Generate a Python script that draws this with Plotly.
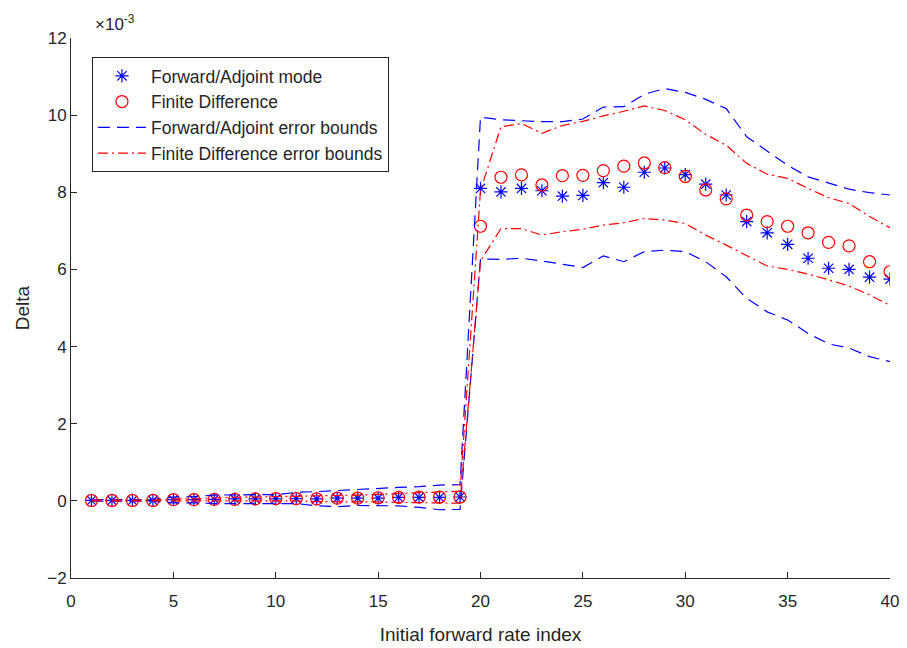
import plotly.graph_objects as go

idx = list(range(1, 41))

# Values in units of 1e-3
fa_mode = [0.01, 0.01, 0.01, 0.01, 0.03, 0.03, 0.04, 0.05, 0.05, 0.05,
           0.06, 0.05, 0.07, 0.07, 0.07, 0.09, 0.09, 0.09, 0.10,
           8.10, 8.01, 8.10, 8.04, 7.90, 7.92, 8.25, 8.13, 8.52, 8.63,
           8.46, 8.21, 7.93, 7.24, 6.95, 6.65, 6.29, 6.03, 6.00, 5.80, 5.75]
fin_diff = [0.01, 0.01, 0.01, 0.01, 0.03, 0.03, 0.04, 0.04, 0.05, 0.06,
            0.06, 0.05, 0.07, 0.07, 0.08, 0.09, 0.10, 0.10, 0.10,
            7.12, 8.39, 8.45, 8.19, 8.43, 8.44, 8.56, 8.68, 8.76, 8.64,
            8.41, 8.06, 7.83, 7.41, 7.24, 7.12, 6.95, 6.70, 6.61, 6.20, 5.94]
fa_upper = [0.03, 0.03, 0.03, 0.03, 0.10, 0.11, 0.15, 0.16, 0.16, 0.16,
            0.22, 0.24, 0.27, 0.30, 0.33, 0.35, 0.37, 0.41, 0.42,
            9.95, 9.88, 9.85, 9.83, 9.83, 9.90, 10.21, 10.22, 10.54, 10.69,
            10.59, 10.41, 10.17, 9.44, 9.07, 8.70, 8.40, 8.23, 8.08, 7.99, 7.93]
fa_lower = [-0.01, -0.01, -0.01, -0.01, -0.05, -0.05, -0.07, -0.07, -0.07, -0.07,
            -0.07, -0.13, -0.15, -0.12, -0.12, -0.13, -0.17, -0.23, -0.22,
            6.27, 6.26, 6.29, 6.22, 6.13, 6.05, 6.35, 6.20, 6.46, 6.50,
            6.46, 6.20, 5.81, 5.25, 4.90, 4.69, 4.34, 4.07, 3.96, 3.74, 3.61]
fd_upper = [0.02, 0.02, 0.02, 0.02, 0.05, 0.05, 0.08, 0.09, 0.09, 0.10,
            0.12, 0.12, 0.14, 0.15, 0.17, 0.19, 0.20, 0.22, 0.25,
            8.05, 9.70, 9.78, 9.53, 9.73, 9.84, 9.98, 10.10, 10.24, 10.12,
            9.88, 9.50, 9.22, 8.75, 8.47, 8.36, 8.10, 7.86, 7.71, 7.37, 7.08]
fd_lower = [0.00, 0.00, 0.00, 0.00, 0.01, 0.01, 0.00, 0.00, 0.00, 0.00,
            0.00, -0.02, -0.02, -0.02, -0.03, -0.04, -0.05, -0.06, -0.06,
            6.22, 7.06, 7.06, 6.89, 6.98, 7.04, 7.15, 7.21, 7.32, 7.28,
            7.19, 6.89, 6.63, 6.37, 6.09, 6.00, 5.88, 5.73, 5.57, 5.34, 5.07]

x_ticks = [0, 5, 10, 15, 20, 25, 30, 35, 40]
y_ticks = [-2, 0, 2, 4, 6, 8, 10, 12]

BLUE = "rgb(0,0,255)"
RED = "rgb(255,0,0)"
AX = "#262626"
FONT = "Liberation Sans, Arial, sans-serif"
DASH = "12px,7px"
DASHDOT = "10px,4px,2px,4px"

fig = go.Figure()
fig.add_trace(go.Scatter(
    x=idx, y=fa_mode, mode="markers", name="Forward/Adjoint mode",
    marker=dict(symbol="asterisk-open", size=11, color=BLUE,
                line=dict(color=BLUE, width=1.2))))
fig.add_trace(go.Scatter(
    x=idx, y=fin_diff, mode="markers", name="Finite Difference",
    marker=dict(symbol="circle-open", size=12, color=RED,
                line=dict(color=RED, width=1.2))))
fig.add_trace(go.Scatter(
    x=idx, y=fa_upper, mode="lines", name="Forward/Adjoint error bounds",
    line=dict(color=BLUE, width=1.2, dash=DASH)))
fig.add_trace(go.Scatter(
    x=idx, y=fd_upper, mode="lines", name="Finite Difference error bounds",
    line=dict(color=RED, width=1.2, dash=DASHDOT)))
fig.add_trace(go.Scatter(
    x=idx, y=fa_lower, mode="lines", showlegend=False,
    line=dict(color=BLUE, width=1.2, dash=DASH)))
fig.add_trace(go.Scatter(
    x=idx, y=fd_lower, mode="lines", showlegend=False,
    line=dict(color=RED, width=1.2, dash=DASHDOT)))

fig.update_layout(
    width=907, height=648,
    margin=dict(l=71, r=17, t=38, b=70),
    paper_bgcolor="white", plot_bgcolor="white",
    font=dict(family=FONT, color=AX, size=16),
    showlegend=True,
    legend=dict(
        x=0.0256, y=0.965, xanchor="left", yanchor="top",
        bgcolor="white", bordercolor=AX, borderwidth=1,
        font=dict(family=FONT, size=17.5, color=AX),
        itemwidth=48, tracegroupgap=0,
    ),
    xaxis=dict(
        range=[0, 40], tickvals=x_ticks, ticks="inside", ticklen=6,
        showline=True, linecolor=AX, linewidth=1, showgrid=False,
        zeroline=False, mirror=False, tickcolor=AX, automargin=False,
        tickfont=dict(size=17), ticklabelstandoff=8,
        title=dict(text="Initial forward rate index", font=dict(size=19), standoff=17),
    ),
    yaxis=dict(
        range=[-2, 12], tickvals=y_ticks, ticks="inside", ticklen=6,
        showline=True, linecolor=AX, linewidth=1, showgrid=False,
        zeroline=False, mirror=False, tickcolor=AX, automargin=False,
        tickfont=dict(size=17),
        title=dict(text="Delta", font=dict(size=19), standoff=12),
    ),
    annotations=[dict(
        xref="paper", yref="paper", x=0, y=1, xanchor="left", yanchor="bottom",
        xshift=22, yshift=2, showarrow=False,
        text="×10<sup>-3</sup>", font=dict(family=FONT, size=17, color=AX),
    )],
)

fig.write_html("out.html")
